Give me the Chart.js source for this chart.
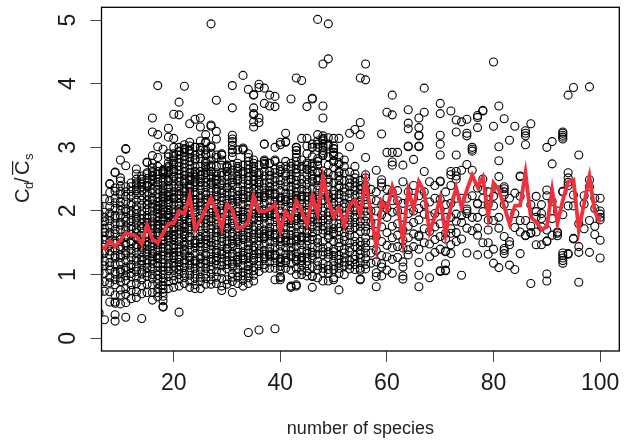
<!DOCTYPE html>
<html>
<head>
<meta charset="utf-8">
<style>
  html, body { margin: 0; padding: 0; background: #fff; }
  canvas { display: block; }
</style>
<script src="https://cdn.jsdelivr.net/npm/chart.js@4"></script>
</head>
<body>
<canvas id="myChart" width="632" height="440"></canvas>
<script>
const xTicks = [20, 40, 60, 80, 100];
const yTicks = [0, 1, 2, 3, 4, 5];

// one list of ratios per species count, 6 to 24
const ratiosLow = [
  [0.40,0.72,0.88,1.03,1.13,1.24,1.33,1.42,1.53,1.62,1.74,1.86,1.97,2.08],
  [0.29,0.74,0.89,1.02,1.14,1.21,1.34,1.37,1.47,1.55,1.66,1.73,1.83,1.9,1.98,2.19],
  [0.57,0.73,0.87,0.96,1.07,1.14,1.19,1.31,1.37,1.46,1.52,1.61,1.66,1.76,1.85,1.92,1.97,2.07,2.16,2.29,2.42,2.43],
  [0.27,0.37,0.55,0.57,0.68,0.84,0.92,1.01,1.05,1.16,1.26,1.3,1.4,1.49,1.53,1.64,1.71,1.8,1.89,1.93,2.04,2.13,2.2,2.31,2.36,2.6,2.61],
  [0.54,0.68,0.76,0.89,0.95,1.04,1.08,1.18,1.27,1.31,1.4,1.44,1.55,1.59,1.7,1.78,1.82,1.92,2.01,2.08,2.15,2.26,2.31,2.39,2.47,2.52,2.8],
  [0.33,0.56,0.69,0.78,0.91,0.98,1.07,1.12,1.22,1.31,1.37,1.46,1.5,1.6,1.69,1.75,1.84,1.9,1.99,2.03,2.14,2.23,2.3,2.38,2.71,2.97,2.98],
  [0.62,0.75,0.84,0.97,1.02,1.11,1.16,1.26,1.34,1.4,1.49,1.53,1.63,1.71,1.76,1.85,1.94,2.0,2.09,2.13,2.23,2.31,2.38,2.44],
  [0.64,0.73,0.86,0.96,1.05,1.12,1.21,1.26,1.35,1.43,1.47,1.57,1.66,1.72,1.81,1.87,1.96,2.02,2.08,2.17,2.26,2.32,2.41,2.5,2.58,2.66],
  [0.31,0.7,0.83,0.92,1.01,1.07,1.16,1.22,1.27,1.36,1.45,1.51,1.56,1.65,1.74,1.8,1.88,1.94,2.0,2.09,2.17,2.24,2.32,2.38,2.46,2.55],
  [0.72,0.85,0.97,1.03,1.11,1.18,1.23,1.32,1.4,1.46,1.51,1.6,1.65,1.74,1.82,1.88,1.93,2.02,2.1,2.16,2.24,2.3,2.38,2.44,2.51,2.6,2.76,2.77],
  [0.6,0.72,0.84,0.94,1.0,1.09,1.17,1.23,1.28,1.37,1.45,1.5,1.55,1.64,1.72,1.78,1.83,1.92,2.0,2.06,2.11,2.2,2.28,2.34,2.42,2.48,2.55,2.68,2.75,2.87,3.24,3.46],
  [0.65,0.72,0.78,0.86,0.93,0.99,1.06,1.13,1.18,1.25,1.3,1.37,1.42,1.47,1.54,1.61,1.66,1.72,1.79,1.84,1.9,1.97,2.02,2.07,2.14,2.21,2.27,2.34,2.41,2.5,2.58,2.84,3.01,3.2,3.97],
  [0.49,0.5,0.59,0.66,0.72,0.77,0.83,0.9,0.94,1.0,1.07,1.12,1.17,1.24,1.31,1.36,1.41,1.48,1.55,1.6,1.65,1.72,1.79,1.84,1.89,1.95,2.0,2.05,2.1,2.15,2.2,2.25,2.3,2.35,2.4,2.45,2.5,2.58,2.97],
  [0.78,0.89,0.97,1.06,1.12,1.17,1.26,1.34,1.4,1.45,1.54,1.62,1.68,1.73,1.82,1.9,1.96,2.01,2.1,2.18,2.24,2.29,2.38,2.46,2.52,2.6,2.68,2.76,3.16,3.3],
  [0.8,0.91,0.98,1.07,1.13,1.18,1.27,1.35,1.41,1.46,1.55,1.63,1.69,1.74,1.83,1.91,1.97,2.02,2.11,2.19,2.25,2.3,2.39,2.47,2.53,2.62,2.75,2.86,3.14,3.52],
  [0.41,0.82,0.93,1.0,1.08,1.14,1.19,1.28,1.36,1.42,1.47,1.56,1.64,1.7,1.75,1.84,1.92,1.98,2.03,2.12,2.2,2.26,2.31,2.4,2.46,2.52,2.58,2.64,2.7,2.76,2.82,2.88,2.94,3.0,3.51,3.71],
  [0.86,0.95,1.02,1.11,1.18,1.23,1.32,1.4,1.46,1.51,1.6,1.68,1.74,1.79,1.88,1.96,2.02,2.07,2.16,2.24,2.3,2.35,2.44,2.5,2.56,2.62,2.68,2.74,2.8,2.86,2.92,2.98,3.04,3.96],
  [0.8,0.9,0.99,1.06,1.15,1.22,1.27,1.38,1.47,1.54,1.59,1.7,1.76,1.82,1.88,1.94,2.0,2.06,2.12,2.18,2.24,2.3,2.36,2.42,2.48,2.54,2.6,2.66,2.72,2.78,2.84,2.9,2.96,3.02,3.08,3.37],
  [0.78,0.84,0.94,1.01,1.1,1.17,1.23,1.33,1.42,1.49,1.54,1.65,1.74,1.81,1.86,1.97,2.06,2.13,2.18,2.29,2.38,2.45,2.53,2.6,2.8,3.0,3.44]
];

// species counts 25 to 50
const ratiosMid = [
  [0.78,0.89,0.96,1.05,1.12,1.18,1.28,1.37,1.44,1.5,1.6,1.69,1.76,1.82,1.92,2.01,2.08,2.14,2.24,2.33,2.4,2.46,2.56,2.62,2.7,2.82,3.32,3.46],
  [0.85,0.94,1.01,1.1,1.17,1.23,1.33,1.42,1.49,1.55,1.65,1.74,1.81,1.87,1.97,2.06,2.13,2.19,2.29,2.38,2.45,2.52,2.6,2.7,2.78,2.88,2.96,3.07,3.09,3.2],
  [0.85,0.92,1.01,1.08,1.14,1.24,1.33,1.4,1.46,1.56,1.65,1.72,1.78,1.88,1.97,2.04,2.1,2.2,2.29,2.36,2.42,2.52,2.62,2.7,2.72,3.02,3.33,3.35,4.94],
  [0.86,0.96,1.05,1.15,1.22,1.28,1.38,1.47,1.54,1.6,1.7,1.79,1.86,1.92,2.02,2.11,2.18,2.24,2.34,2.43,2.5,2.6,2.84,3.13,3.25,3.74],
  [0.75,0.82,0.94,1.04,1.14,1.2,1.26,1.36,1.45,1.52,1.58,1.68,1.77,1.84,1.9,2.0,2.09,2.16,2.22,2.32,2.41,2.48,2.56,2.88,2.9],
  [0.85,0.92,1.09,1.16,1.22,1.32,1.41,1.48,1.54,1.64,1.73,1.8,1.86,1.96,2.05,2.12,2.18,2.28,2.37,2.44,2.54,2.62,2.68,2.72],
  [0.72,0.89,0.96,1.02,1.12,1.21,1.28,1.34,1.44,1.53,1.6,1.66,1.76,1.85,1.92,1.98,2.08,2.17,2.24,2.3,2.4,2.49,2.55,2.64,2.72,2.85,2.92,2.96,3.03,3.09,3.13,3.19,3.62,3.97],
  [0.86,0.96,1.03,1.09,1.19,1.28,1.35,1.41,1.51,1.6,1.67,1.73,1.83,1.92,1.99,2.05,2.15,2.24,2.31,2.37,2.47,2.55,2.67,2.75],
  [0.82,0.91,0.98,1.04,1.14,1.23,1.3,1.36,1.46,1.55,1.62,1.68,1.78,1.87,1.94,2.0,2.1,2.19,2.26,2.32,2.42,2.5,2.58,2.97,2.99,4.13],
  [0.09,0.86,0.95,1.02,1.08,1.18,1.27,1.34,1.4,1.5,1.59,1.66,1.72,1.82,1.91,1.98,2.04,2.14,2.23,2.3,2.36,2.42,2.48,2.54,2.6,2.66,2.72,2.78,2.84,3.91],
  [0.9,0.99,1.06,1.12,1.22,1.31,1.38,1.44,1.54,1.63,1.7,1.76,1.86,1.95,2.02,2.08,2.18,2.27,2.34,2.42,2.48,2.55,2.62,2.66,3.32,3.4,3.51,3.53,3.62,3.82,3.83],
  [0.13,1.05,1.14,1.21,1.27,1.37,1.46,1.53,1.59,1.69,1.78,1.85,1.91,2.01,2.1,2.17,2.23,2.33,2.42,2.49,2.57,3.39,3.46,3.94,3.99],
  [1.1,1.16,1.25,1.32,1.38,1.48,1.57,1.64,1.7,1.8,1.89,1.96,2.02,2.12,2.21,2.28,2.36,2.44,2.55,2.73,2.75,3.05,3.69,3.93],
  [1.1,1.2,1.29,1.36,1.42,1.52,1.61,1.68,1.74,1.84,1.93,2.0,2.06,2.16,2.25,2.32,2.38,2.44,2.5,2.56,2.62,2.75,3.65,3.82],
  [0.15,0.92,1.1,1.19,1.26,1.32,1.42,1.51,1.58,1.64,1.74,1.83,1.9,1.96,2.06,2.15,2.22,2.28,2.38,2.46,2.52,2.6,2.78,3.64,3.8],
  [0.92,0.95,0.97,1.07,1.13,1.2,1.26,1.36,1.45,1.52,1.58,1.68,1.77,1.84,1.9,2.0,2.09,2.16,2.22,2.32,2.41,2.48,2.62,3.04],
  [1.1,1.19,1.26,1.32,1.42,1.51,1.58,1.64,1.74,1.83,1.9,1.96,2.06,2.15,2.22,2.28,2.38,2.46,2.6,3.09,3.22],
  [0.8,0.82,1.07,1.17,1.28,1.37,1.43,1.53,1.62,1.69,1.75,1.85,1.94,2.01,2.07,2.17,2.26,2.33,2.39,2.49,2.57,2.75,3.76],
  [0.82,0.84,1.0,1.1,1.21,1.28,1.34,1.44,1.53,1.6,1.66,1.76,1.85,1.92,1.98,2.08,2.17,2.24,2.3,2.36,2.42,2.48,2.54,2.6,2.66,2.72,2.78,2.84,2.9,2.95,3.0,4.09],
  [1.0,1.07,1.15,1.22,1.28,1.38,1.47,1.54,1.6,1.7,1.79,1.86,1.92,2.02,2.11,2.18,2.24,2.34,2.43,2.5,2.7,3.14,4.05],
  [0.98,1.05,1.14,1.21,1.27,1.37,1.46,1.53,1.59,1.69,1.78,1.85,1.91,2.01,2.1,2.17,2.23,2.33,2.42,2.49,2.57,2.65,2.72,3.02,3.14,3.64],
  [0.8,0.97,0.98,1.12,1.26,1.35,1.43,1.55,1.66,1.75,1.83,1.95,2.06,2.15,2.23,2.35,2.46,2.55,2.63,2.75,3.0,3.05,3.76,3.77],
  [0.95,1.08,1.21,1.32,1.42,1.56,1.69,1.76,1.82,1.92,2.01,2.08,2.14,2.24,2.33,2.4,2.48,2.62,2.72,2.82,3.1,3.2,5.01],
  [0.9,1.03,1.17,1.31,1.42,1.52,1.65,1.76,1.85,1.93,2.05,2.16,2.25,2.33,2.45,2.55,2.63,2.87,2.91,2.95,3.1,3.14,3.18,3.46,3.65,4.31],
  [0.9,1.02,1.14,1.27,1.36,1.44,1.58,1.69,1.78,1.86,1.98,2.09,2.18,2.26,2.38,2.5,2.6,2.72,3.02,3.15,4.39,4.94],
  [0.92,0.95,1.08,1.21,1.3,1.4,1.52,1.63,1.72,1.8,1.92,2.03,2.12,2.2,2.32,2.44,2.56,2.68,2.78,2.87,2.92,2.98,3.14]
];

// species counts 51 to 100
const ratiosHigh = [
  [0.76,1.02,1.18,1.3,1.44,1.56,1.68,1.8,1.92,2.04,2.14,2.26,2.36,2.48,2.6,2.73,2.76,3.14],
  [1.0,1.14,1.26,1.4,1.54,1.66,1.78,1.92,2.06,2.22,2.36,2.47],
  [1.09,1.22,1.36,1.5,1.62,1.78,1.94,2.1,2.28,2.44,2.61,3.01,3.22],
  [1.16,1.3,1.44,1.6,1.74,1.9,2.06,2.24,2.38,2.52,2.7,3.28],
  [0.92,0.93,1.07,1.19,1.32,1.38,1.52,1.68,1.84,2.02,2.16,2.34,2.48,3.2,3.39,4.09],
  [1.09,1.25,1.42,1.58,1.76,1.92,2.1,2.27,2.4,2.52,2.57,2.84,4.06,4.31],
  [1.18,1.34,1.5,1.66,1.82,2.0,2.18,2.34],
  [0.81,0.97,1.03,1.2,1.38,1.6,1.8,2.0,2.16,2.3,2.64],
  [0.98,1.12,1.17,1.3,1.52,1.75,1.94,2.1,2.38,2.44,2.49,3.21],
  [1.07,1.28,1.46,1.66,1.9,2.04,2.2,2.34,2.92,3.55],
  [1.02,1.24,1.42,1.58,1.76,1.98,2.16,2.3,2.72,2.77,2.92,3.51,3.82],
  [1.27,1.44,1.62,1.8,2.0,2.16,2.32,2.92],
  [0.93,0.98,1.12,1.2,1.42,1.54,1.7,1.9,2.12,2.46,2.72],
  [1.31,1.39,1.58,1.76,1.96,2.14,2.3,3.01,3.02,3.29,3.38,3.59],
  [1.44,1.64,1.82,2.0,2.2,2.4,2.81],
  [0.81,0.99,1.19,1.4,1.6,1.62,1.86,2.04,2.24,3.01,3.02,3.18,3.19,3.31,3.46],
  [1.5,1.72,1.95,2.1,2.3,2.62,3.55,3.93],
  [0.95,1.28,1.48,1.68,1.92,2.14,2.46],
  [1.35,1.55,1.75,1.96,2.2,2.4],
  [1.05,1.06,1.4,1.6,1.8,2.02,2.18,2.46,2.47,2.88,3.05,3.19,3.53,3.69],
  [1.06,1.07,1.17,1.36,1.37,1.56,1.65,1.9,2.1,2.3],
  [1.33,1.47,1.65,1.72,1.9,2.12,2.4,2.57,2.62,3.57],
  [1.52,1.66,1.84,1.95,2.2,2.5,2.55,2.62,2.88,3.24,3.43],
  [0.99,1.56,1.82,1.93,2.2,2.64,3.4],
  [1.34,1.73,1.96,2.0,2.03,2.2,2.73,3.18,3.22,3.44],
  [1.69,1.9,2.24,2.64,2.94,2.97,3.0],
  [1.31,1.62,1.73,1.9,2.11,2.12,2.36,3.31,3.47,3.5],
  [1.5,1.99,2.2,2.33,2.5,3.57,3.58],
  [1.32,1.5,1.7,1.86,2.1,2.3],
  [1.18,1.4,1.85,2.08,2.23,3.33,4.34],
  [1.11,1.73,1.9,2.33,2.54,2.79,3.01,3.65],
  [1.33,1.38,1.41,1.6,2.1,2.25,2.3,2.35,2.38,3.45],
  [1.15,1.47,1.52,1.96,2.2,3.11],
  [1.08,1.74,1.96,2.28,3.33],
  [1.33,1.67,1.85,2.23,2.54,2.55],
  [1.62,1.61,1.85,3.04,3.18,3.22,3.26],
  [0.86,1.65,1.66,1.76,2.1,3.37],
  [1.47,1.67,1.9,1.99,2.23],
  [1.47,1.75,1.88,1.96,2.1],
  [0.9,1.01,1.52,1.53,1.7,2.24,2.33,3.0],
  [1.62,1.88,2.15,2.74,3.09],
  [1.61,1.65,1.67,2.0],
  [1.18,1.22,1.26,1.3,1.34,1.94,2.3,2.31,3.13,3.16,3.19,3.22,3.24],
  [1.32,1.33,2.08,2.4,2.45,2.52,2.6,3.82],
  [1.56,1.57,2.08,2.25,3.94],
  [0.88,1.35,1.44,1.8,2.88],
  [1.72,2.11,2.24],
  [1.35,1.85,2.38,2.49,3.95],
  [1.63,1.76,2.04,2.2],
  [1.26,1.54,1.86,1.9,1.95,2.0,2.2]
];

const speciesCounts = [6,7,8,9,10,11,12,13,14,15,16,17,18,19,20,21,22,23,24,25,26,27,28,29,30,31,32,33,34,35,36,37,38,39,40,41,42,43,44,45,46,47,48,49,50,51,52,53,54,55,56,57,58,59,60,61,62,63,64,65,66,67,68,69,70,71,72,73,74,75,76,77,78,79,80,81,82,83,84,85,86,87,88,89,90,91,92,93,94,95,96,97,98,99,100];

// red line, mean ratio per species count
const meanRatio = [1.45,1.41,1.53,1.44,1.54,1.65,1.63,1.60,1.48,1.78,1.56,1.50,1.65,1.80,1.81,2.00,1.96,2.23,1.71,1.86,2.03,2.20,1.99,1.73,2.11,2.02,1.73,1.75,1.83,2.23,2.00,1.99,2.03,2.10,1.69,1.99,1.86,2.16,2.00,1.79,2.23,1.96,2.53,2.15,1.91,2.04,1.78,2.09,2.17,1.94,2.49,1.96,1.43,2.15,2.02,2.38,2.12,1.53,2.33,2.04,2.46,2.30,1.67,1.91,2.20,1.63,2.07,2.36,2.06,2.33,2.56,2.38,2.53,1.92,2.44,2.33,2.07,1.80,2.08,2.09,2.60,1.90,1.83,1.71,1.75,2.33,1.81,2.17,2.46,2.49,1.70,2.12,2.54,1.99,1.82];

// second reading of the crowded band, 13 to 56 species
const extraCounts = [13,14,15,16,17,18,19,20,21,22,23,24,25,26,27,28,29,30,31,32,33,34,35,36,37,38,39,40,41,42,43,44,45,46,47,48,49,50,51,52,53,54,55,56];
const extraRatios = [
  [1.58,1.9,2.35,2.44],
  [1.42,1.72,2.42,2.5],
  [1.36,1.77,2.1,2.4,2.58],
  [1.33,1.61,1.89,2.17,2.5,2.56,2.6,2.62,2.68],
  [1.27,1.51,1.76,2.04,2.45,2.62,2.7],
  [1.53,1.86,2.02,2.22,2.6,2.62,2.63,2.65],
  [1.29,1.58,1.93,2.14,2.35,2.48,2.62,2.7,2.85,2.9],
  [1.3,1.6,1.87,2.21,2.55,2.65,2.72,2.8,2.9,3.0],
  [1.24,1.52,1.79,2.08,2.36,2.93],
  [1.37,1.64,1.92,2.2,2.47,2.96],
  [1.29,1.6,1.85,2.15,2.39,2.5,2.94],
  [1.21,1.5,1.78,2.02,2.25,2.46,2.55,2.62,2.7,2.82,2.88,3.0],
  [1.25,1.55,1.88,2.2,2.5,2.62,2.9,2.95,3.0,3.1],
  [1.3,1.6,1.92,2.25,2.6,2.68,2.75,2.9],
  [1.2,1.5,1.83,2.16,2.45,2.55,2.62,2.8,2.9,3.0],
  [1.34,1.66,1.98,2.3,2.48,2.55,2.7,2.88],
  [1.32,1.64,1.96,2.28,2.6,2.72,2.8,2.88],
  [1.4,1.72,2.04,2.36,2.62,2.7],
  [1.17,1.49,1.81,2.13,2.45],
  [1.24,1.56,1.88,2.2,2.5,2.62,2.7,2.96],
  [1.26,1.58,1.9,2.22,2.62,2.72,2.96],
  [1.13,1.45,1.77,2.09,2.9],
  [1.26,1.58,1.9,2.22,2.62,2.7,2.75,2.8],
  [1.33,1.64,1.96,2.27,2.45,2.6,2.72],
  [1.28,1.6,1.92,2.24,2.62,2.78,2.8,3.05],
  [1.32,1.64,1.96,2.28,2.62,2.75],
  [1.3,1.62,1.94,2.26,2.66,2.8,3.0],
  [1.24,1.56,1.88,2.2,2.65,2.7,3.08],
  [1.22,1.54,1.86,2.18,2.55,2.7,2.78,3.08],
  [1.31,1.5,1.8,2.12,2.5,2.66,2.7],
  [1.24,1.56,1.88,2.2,2.95,3.0],
  [1.26,1.58,1.9,2.22,2.66,2.8],
  [1.33,1.65,1.97,2.29,2.66,2.75,2.9],
  [1.3,1.6,1.9,2.2,2.5,2.7,2.85,3.0],
  [1.14,1.5,1.86,2.18,2.5,2.6,2.78,3.0,3.05],
  [1.1,1.36,1.7,2.0,2.3,2.88,3.0,3.05,3.12],
  [1.08,1.32,1.62,1.92,2.22,2.45,2.85,3.05],
  [1.14,1.36,1.66,1.97,2.26,2.78,2.88,2.98,3.02],
  [1.1,1.24,1.5,1.74,1.98,2.2,2.4,2.55,2.62,2.85],
  [1.2,1.34,1.6,1.86,2.12,2.3,2.6,2.7,2.8],
  [1.15,1.42,1.7,1.86,2.02,2.2,2.38,2.5],
  [1.08,1.24,1.52,1.82,2.0,2.14,2.32,2.45,2.58],
  [1.1,1.26,1.46,1.76,1.94,2.1,2.26,2.4],
  [1.16,1.34,1.5,1.68,1.84,2.0,2.18,2.32]
];

const allRatios = ratiosLow.concat(ratiosMid, ratiosHigh);
const points = [];
allRatios.forEach((list, i) => {
  list.forEach((r) => points.push({ x: speciesCounts[i], y: r }));
});
extraRatios.forEach((list, i) => {
  list.forEach((r) => points.push({ x: extraCounts[i], y: r }));
});
const line = speciesCounts.map((c, i) => ({ x: c, y: meanRatio[i] }));

const tickFont = { family: "'Liberation Sans', Arial, sans-serif", size: 23 };

// box round the plot and the y title with its sub/overline parts
const frame = {
  id: "frame",
  afterDraw(chart) {
    const c = chart.ctx;
    const a = chart.chartArea;
    c.save();
    c.strokeStyle = "#000";
    c.lineWidth = 1.3;
    c.strokeRect(a.left, a.top, a.right - a.left, a.bottom - a.top);
    c.translate(29, 178);
    c.rotate(-Math.PI / 2);
    c.fillStyle = "#222";
    c.textBaseline = "alphabetic";
    c.font = "20px 'Liberation Sans'";
    c.fillText("C", -25, 0);
    c.fillText("C", 3, 0);
    c.fillRect(3, -17, 14, 1.2);
    c.fillText("/", -5, 0);
    c.font = "13px 'Liberation Sans'";
    c.fillText("d", -11, 4);
    c.fillText("s", 18, 4);
    c.restore();
  },
};

const noPad = (s) => {
  s.paddingTop = 0;
  s.paddingBottom = 0;
  s.paddingLeft = 0;
  s.paddingRight = 0;
};

new Chart(document.getElementById("myChart"), {
  type: "scatter",
  data: {
    datasets: [
      {
        label: "mean",
        data: line,
        showLine: true,
        borderColor: "#EE313C",
        borderWidth: 3.8,
        pointRadius: 0,
        order: 1,
      },
      {
        label: "ratio",
        data: points,
        pointStyle: "circle",
        pointRadius: 4,
        pointBorderWidth: 1.1,
        pointBorderColor: "#000",
        pointBackgroundColor: "transparent",
        order: 2,
      },
    ],
  },
  options: {
    responsive: false,
    animation: false,
    layout: { padding: { left: 0, top: 7.3, right: 12.7, bottom: 0 } },
    plugins: { legend: { display: false }, tooltip: { enabled: false } },
    scales: {
      x: {
        type: "linear",
        min: 6.45,
        max: 103.6,
        afterFit: (s) => { s.height = 89; noPad(s); },
        afterBuildTicks: (s) => { s.ticks = xTicks.map((v) => ({ value: v })); },
        grid: { drawOnChartArea: false, tickLength: 11, tickColor: "#444", tickWidth: 1 },
        border: { display: false },
        ticks: { font: tickFont, color: "#1a1a1a", padding: 8, maxRotation: 0, autoSkip: false },
        title: {
          display: true,
          text: "number of species",
          font: { family: "'Liberation Sans', Arial, sans-serif", size: 18 },
          color: "#222",
          padding: { top: 12, bottom: 0 },
        },
      },
      y: {
        min: -0.2,
        max: 5.2,
        afterFit: (s) => { s.width = 101.5; noPad(s); },
        afterBuildTicks: (s) => { s.ticks = yTicks.map((v) => ({ value: v })); },
        grid: { drawOnChartArea: false, tickLength: 11, tickColor: "#444", tickWidth: 1 },
        border: { display: false },
        ticks: { font: tickFont, color: "#1a1a1a", padding: 15, minRotation: 90, maxRotation: 90, crossAlign: "center", autoSkip: false },
      },
    },
  },
  plugins: [frame],
});
</script>
</body>
</html>
